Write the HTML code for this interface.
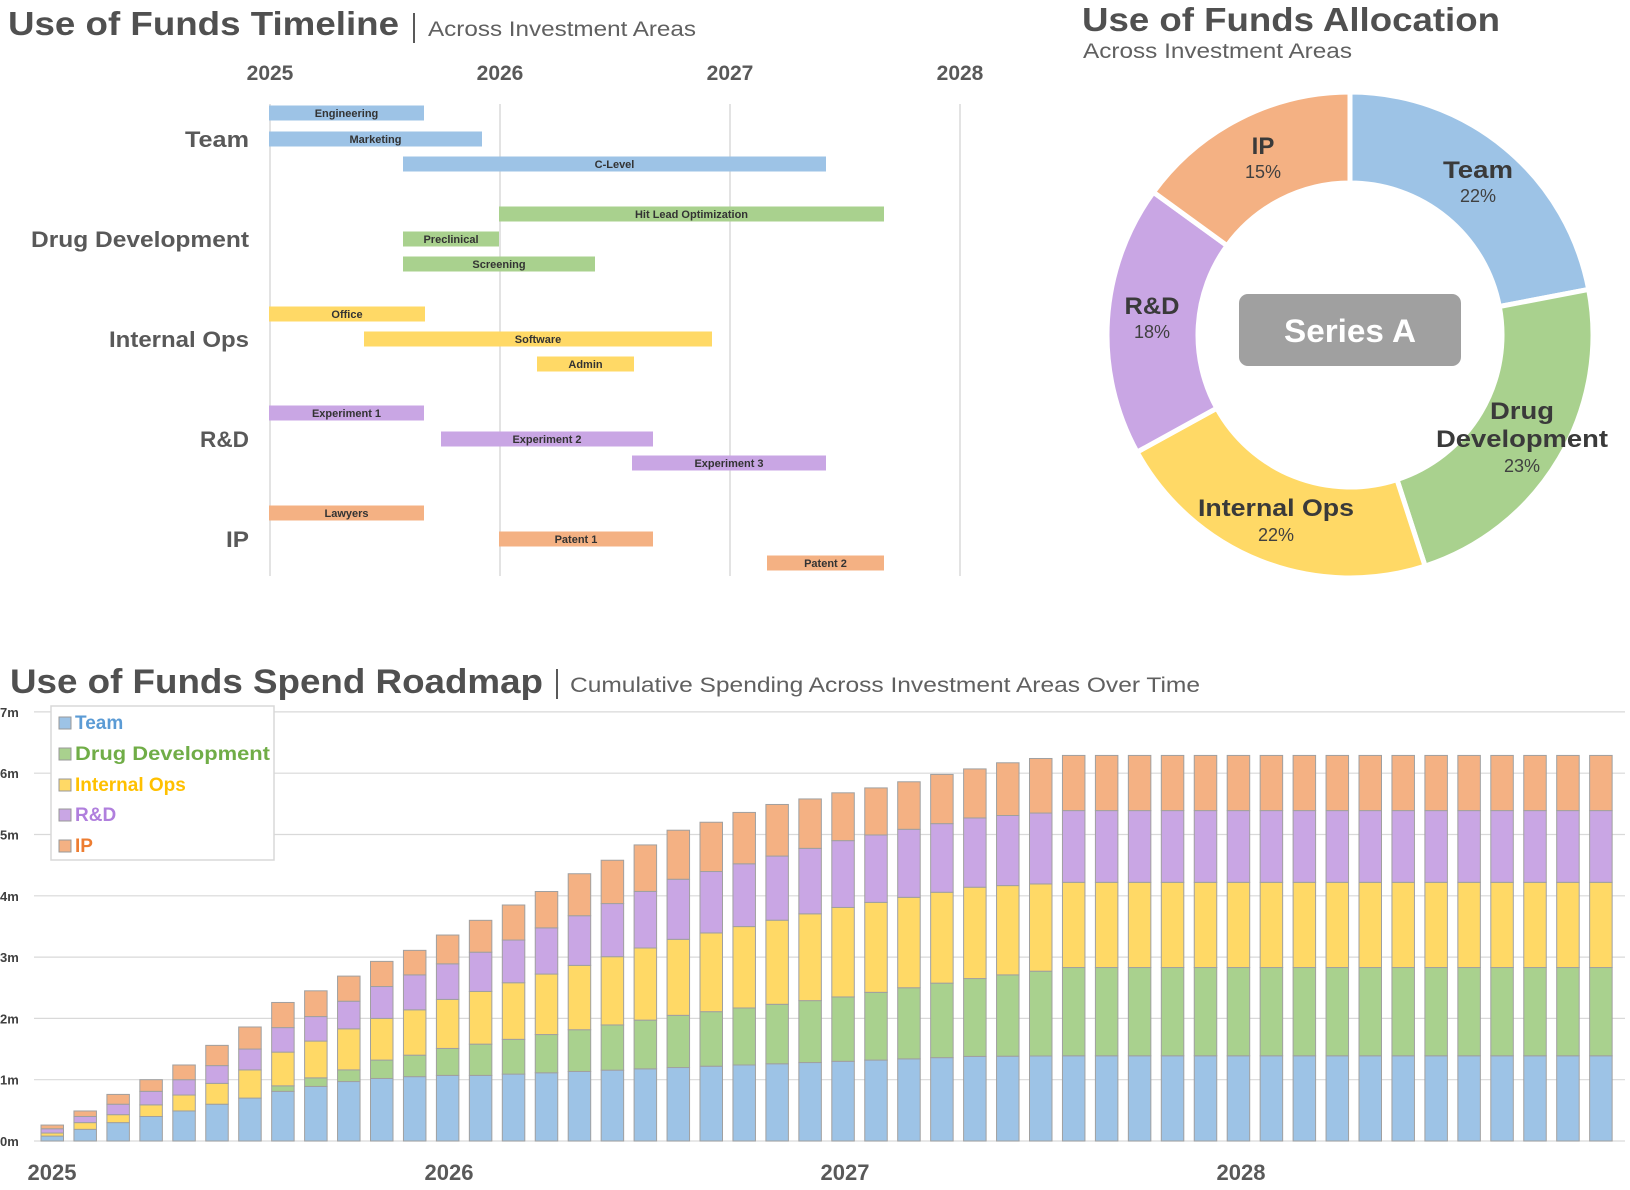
<!DOCTYPE html>
<html><head><meta charset="utf-8">
<style>
html,body{margin:0;padding:0;background:#fff;}
svg{display:block;font-family:"Liberation Sans",sans-serif;}
</style></head>
<body>
<svg id="s" width="1630" height="1190" viewBox="0 0 1630 1190" xmlns="http://www.w3.org/2000/svg">
<!-- Timeline title -->
<text x="8" y="35" font-size="33" font-weight="bold" fill="#505050" textLength="391" lengthAdjust="spacingAndGlyphs">Use of Funds Timeline</text>
<rect x="413" y="13" width="2" height="30" fill="#595959"/>
<text x="428" y="36" font-size="21" fill="#606060" textLength="268" lengthAdjust="spacingAndGlyphs">Across Investment Areas</text>
<g font-size="21" font-weight="bold" fill="#595959" text-anchor="middle">
<text x="270" y="80">2025</text><text x="500" y="80">2026</text><text x="730" y="80">2027</text><text x="960" y="80">2028</text>
</g>
<g stroke="#d0d0d0" stroke-width="1.2">
<line x1="270" y1="104" x2="270" y2="576"/><line x1="500" y1="104" x2="500" y2="576"/><line x1="730" y1="104" x2="730" y2="576"/><line x1="960" y1="104" x2="960" y2="576"/>
</g>
<g font-size="22" font-weight="bold" fill="#595959" lengthAdjust="spacingAndGlyphs">
<text x="185" y="147" textLength="64" lengthAdjust="spacingAndGlyphs">Team</text>
<text x="31" y="247" textLength="218" lengthAdjust="spacingAndGlyphs">Drug Development</text>
<text x="109" y="347" textLength="140" lengthAdjust="spacingAndGlyphs">Internal Ops</text>
<text x="200" y="447" textLength="49" lengthAdjust="spacingAndGlyphs">R&amp;D</text>
<text x="226" y="547" textLength="23" lengthAdjust="spacingAndGlyphs">IP</text>
</g>
<g id="gantt"></g>

<!-- Allocation -->
<text x="1082" y="31" font-size="33" font-weight="bold" fill="#505050" textLength="418" lengthAdjust="spacingAndGlyphs">Use of Funds Allocation</text>
<text x="1083" y="58" font-size="21" fill="#606060" textLength="269" lengthAdjust="spacingAndGlyphs">Across Investment Areas</text>
<g id="donut"></g>
<rect x="1239" y="294" width="222" height="72" rx="9" fill="#a0a0a0"/>
<text x="1350" y="342" font-size="32" font-weight="bold" fill="#fff" text-anchor="middle" textLength="132" lengthAdjust="spacingAndGlyphs">Series A</text>
<g font-weight="bold" font-size="24" fill="#3a3a3a" text-anchor="middle">
<text x="1478" y="178" textLength="70" lengthAdjust="spacingAndGlyphs">Team</text>
<text x="1263" y="154">IP</text>
<text x="1152" y="314" textLength="55" lengthAdjust="spacingAndGlyphs">R&amp;D</text>
<text x="1522" y="419" textLength="64" lengthAdjust="spacingAndGlyphs">Drug</text>
<text x="1522" y="447" textLength="172" lengthAdjust="spacingAndGlyphs">Development</text>
<text x="1276" y="516" textLength="156" lengthAdjust="spacingAndGlyphs">Internal Ops</text>
</g>
<g font-size="18" fill="#404040" text-anchor="middle">
<text x="1478" y="202">22%</text>
<text x="1263" y="178">15%</text>
<text x="1152" y="338">18%</text>
<text x="1522" y="472">23%</text>
<text x="1276" y="541">22%</text>
</g>

<!-- Roadmap -->
<text x="10" y="693" font-size="34" font-weight="bold" fill="#505050" textLength="533" lengthAdjust="spacingAndGlyphs">Use of Funds Spend Roadmap</text>
<rect x="556" y="669" width="2" height="30" fill="#595959"/>
<text x="570" y="692" font-size="21" fill="#606060" textLength="630" lengthAdjust="spacingAndGlyphs">Cumulative Spending Across Investment Areas Over Time</text>
<g id="grid"></g>
<g id="bars"></g>
<rect x="51" y="706" width="223" height="154" fill="#fff" stroke="#d8d8d8" stroke-width="1.5"/>
<g font-size="19" font-weight="bold">
<rect x="59" y="717" width="12" height="12" fill="#9dc3e6" stroke="#999"/><text x="75" y="729" fill="#5b9bd5">Team</text>
<rect x="59" y="748" width="12" height="12" fill="#a9d18e" stroke="#999"/><text x="75" y="760" fill="#70ad47" textLength="195" lengthAdjust="spacingAndGlyphs">Drug Development</text>
<rect x="59" y="779" width="12" height="12" fill="#ffd966" stroke="#999"/><text x="75" y="791" fill="#ffc000">Internal Ops</text>
<rect x="59" y="809" width="12" height="12" fill="#c9a6e4" stroke="#999"/><text x="75" y="821" fill="#b07fdd">R&amp;D</text>
<rect x="59" y="840" width="12" height="12" fill="#f4b183" stroke="#999"/><text x="75" y="852" fill="#ed7d31">IP</text>
</g>
<g font-size="22" font-weight="bold" fill="#595959" text-anchor="middle">
<text x="52" y="1180">2025</text><text x="449" y="1180">2026</text><text x="845" y="1180">2027</text><text x="1241" y="1180">2028</text>
</g>
</svg>
<script>
var NS="http://www.w3.org/2000/svg";
function el(p,t,a,txt){var e=document.createElementNS(NS,t);for(var k in a)e.setAttribute(k,a[k]);if(txt)e.textContent=txt;p.appendChild(e);return e;}
var C={t:"#9dc3e6",d:"#a9d18e",i:"#ffd966",r:"#c9a6e4",p:"#f4b183"};
var g=document.getElementById("gantt");
var G=[["Engineering",269,424,113,"t"],["Marketing",269,482,139,"t"],["C-Level",403,826,164,"t"],
["Hit Lead Optimization",499,884,214,"d"],["Preclinical",403,499,239,"d"],["Screening",403,595,264,"d"],
["Office",269,425,314,"i"],["Software",364,712,339,"i"],["Admin",537,634,364,"i"],
["Experiment 1",269,424,413,"r"],["Experiment 2",441,653,439,"r"],["Experiment 3",632,826,463,"r"],
["Lawyers",269,424,513,"p"],["Patent 1",499,653,539,"p"],["Patent 2",767,884,563,"p"]];
G.forEach(function(b){el(g,"rect",{x:b[1],y:b[3]-7.5,width:b[2]-b[1],height:15,fill:C[b[4]]});
el(g,"text",{x:(b[1]+b[2])/2,y:b[3]+4,"font-size":11,"font-weight":"bold",fill:"#333","text-anchor":"middle"},b[0]);});
var d=document.getElementById("donut"),cx=1350,cy=335,R=243,r=152,a0=0;
[[22,"t"],[23,"d"],[22,"i"],[18,"r"],[15,"p"]].forEach(function(s){var a1=a0+s[0]*3.6;
function pt(rad,a){var t=(a-90)*Math.PI/180;return (cx+rad*Math.cos(t)).toFixed(2)+" "+(cy+rad*Math.sin(t)).toFixed(2);}
var lg=s[0]*3.6>180?1:0;
el(d,"path",{d:"M"+pt(R,a0)+" A"+R+" "+R+" 0 "+lg+" 1 "+pt(R,a1)+" L"+pt(r,a1)+" A"+r+" "+r+" 0 "+lg+" 0 "+pt(r,a0)+"Z",fill:C[s[1]],stroke:"#fff","stroke-width":5});a0=a1;});
var gr=document.getElementById("grid"),y0=1141,pm=61.3;
for(var m=0;m<=7;m++){var y=y0-m*pm;el(gr,"line",{x1:34,x2:1625,y1:y,y2:y,stroke:"#d9d9d9","stroke-width":1.2});
el(gr,"text",{x:0,y:y+5,"font-size":13,"font-weight":"bold",fill:"#404040"},m+"m");}
function interp(keys){var ks=Object.keys(keys).map(Number).sort(function(a,b){return a-b});var out=[];
for(var i=0;i<48;i++){for(var j=0;j<ks.length-1;j++){if(i>=ks[j]&&i<=ks[j+1]){var f=(i-ks[j])/(ks[j+1]-ks[j]);out.push(keys[ks[j]]+f*(keys[ks[j+1]]-keys[ks[j]]));break;}}}return out;}
var T=interp({0:.08,1:.19,2:.30,3:.40,4:.49,5:.60,6:.70,7:.81,8:.89,9:.97,10:1.02,11:1.05,12:1.07,13:1.07,20:1.22,28:1.38,31:1.39,47:1.39});
var D=interp({0:.08,1:.19,2:.30,3:.40,4:.49,5:.60,6:.70,7:.90,8:1.03,9:1.16,10:1.32,11:1.40,12:1.51,13:1.58,19:2.05,24:2.35,28:2.65,31:2.83,47:2.83});
var I=interp({0:.13,1:.30,2:.43,3:.59,4:.75,5:.94,6:1.16,7:1.45,8:1.63,9:1.83,10:2.0,11:2.14,12:2.31,13:2.44,19:3.29,24:3.81,28:4.14,31:4.22,47:4.22});
var Rr=interp({0:.2,1:.40,2:.60,3:.81,4:1.0,5:1.23,6:1.5,7:1.85,8:2.03,9:2.28,10:2.52,11:2.71,12:2.89,13:3.08,19:4.27,24:4.9,28:5.27,31:5.39,47:5.39});
var P=interp({0:.26,1:.49,2:.76,3:1.0,4:1.24,5:1.56,6:1.86,7:2.26,8:2.45,9:2.69,10:2.93,11:3.11,12:3.36,13:3.60,14:3.85,15:4.07,16:4.36,17:4.58,18:4.83,19:5.07,20:5.2,21:5.36,22:5.49,23:5.58,24:5.68,25:5.76,26:5.86,27:5.98,28:6.07,29:6.17,30:6.24,31:6.29,47:6.29});
var bg=document.getElementById("bars");
for(var i=0;i<48;i++){var x=41+i*32.95,prev=0;
[[T[i],"t"],[D[i],"d"],[I[i],"i"],[Rr[i],"r"],[P[i],"p"]].forEach(function(s){var top=s[0];if(top>prev+0.001){
el(bg,"rect",{x:x,y:y0-top*pm,width:22.5,height:(top-prev)*pm,fill:C[s[1]],stroke:"#a0a0a0","stroke-width":1});}prev=Math.max(prev,top);});}
</script>
</body></html>
